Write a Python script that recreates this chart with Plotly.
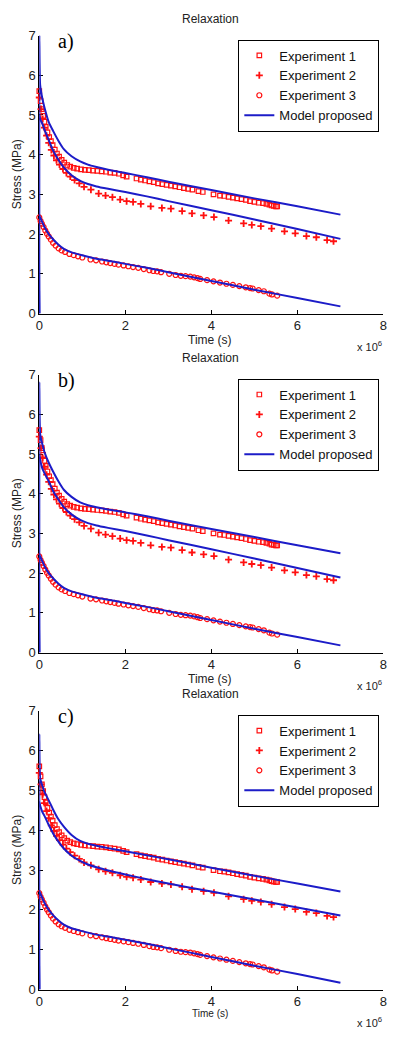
import plotly.graph_objects as go

# ---------------- data (time in 1e6 s, stress in MPa) ----------------
t_exp1 = [0, 0.03, 0.06, 0.09, 0.12, 0.15, 0.19, 0.23, 0.27, 0.31, 0.36, 0.41, 0.46, 0.52,
          0.58, 0.65, 0.72, 0.80, 0.88, 0.97, 1.06, 1.15, 1.25, 1.35, 1.45, 1.55, 1.65, 1.75,
          1.85, 1.95, 2.03, 2.26, 2.36, 2.46, 2.56, 2.66, 2.76, 2.86, 2.96, 3.06, 3.16, 3.26,
          3.36, 3.46, 3.56, 3.70, 3.80, 4.05, 4.20, 4.30, 4.40, 4.50, 4.60, 4.70, 4.80, 4.90,
          5.00, 5.10, 5.20, 5.28, 5.35, 5.40, 5.45, 5.50, 5.53]
s_exp1 = [5.60, 5.35, 5.15, 4.98, 4.83, 4.70, 4.56, 4.44, 4.34, 4.24, 4.13, 4.03, 3.95, 3.87,
          3.80, 3.74, 3.70, 3.67, 3.65, 3.63, 3.62, 3.61, 3.60, 3.59, 3.58, 3.57, 3.55, 3.54,
          3.52, 3.48, 3.45, 3.40, 3.37, 3.35, 3.33, 3.31, 3.28, 3.26, 3.24, 3.22, 3.20, 3.18,
          3.16, 3.14, 3.12, 3.08, 3.06, 3.00, 2.97, 2.96, 2.94, 2.92, 2.90, 2.88, 2.86, 2.83,
          2.81, 2.79, 2.78, 2.76, 2.74, 2.72, 2.71, 2.70, 2.70]

t_exp2 = [0, 0.04, 0.08, 0.12, 0.17, 0.22, 0.28, 0.34, 0.40, 0.47, 0.55, 0.63, 0.72, 0.82,
          0.93, 1.04, 1.20, 1.38, 1.54, 1.70, 1.88, 2.03, 2.18, 2.36, 2.59, 2.85, 3.06, 3.32,
          3.55, 3.82, 4.06, 4.40, 4.75, 4.94, 5.15, 5.40, 5.70, 5.95, 6.21, 6.44, 6.69, 6.84]
s_exp2 = [5.44, 5.15, 4.90, 4.68, 4.48, 4.30, 4.12, 3.98, 3.86, 3.75, 3.64, 3.54, 3.45, 3.36,
          3.28, 3.19, 3.12, 3.02, 2.97, 2.93, 2.87, 2.83, 2.81, 2.76, 2.70, 2.66, 2.64, 2.58,
          2.52, 2.47, 2.43, 2.34, 2.27, 2.23, 2.20, 2.14, 2.07, 2.02, 1.95, 1.92, 1.85, 1.82]

t_exp3 = [0, 0.03, 0.06, 0.10, 0.14, 0.18, 0.22, 0.27, 0.32, 0.38, 0.45, 0.52, 0.60, 0.70,
          0.80, 0.90, 1.00, 1.19, 1.32, 1.46, 1.56, 1.65, 1.75, 1.84, 1.96, 2.07, 2.18, 2.30,
          2.43, 2.56, 2.65, 2.74, 2.83, 3.02, 3.17, 3.29, 3.40, 3.51, 3.60, 3.68, 3.74, 3.90,
          4.05, 4.20, 4.35, 4.50, 4.65, 4.80, 4.90, 4.96, 5.10, 5.22, 5.35, 5.41, 5.53]
s_exp3 = [2.42, 2.33, 2.26, 2.18, 2.09, 2.01, 1.94, 1.86, 1.78, 1.71, 1.64, 1.59, 1.55, 1.50,
          1.47, 1.44, 1.41, 1.36, 1.34, 1.31, 1.29, 1.27, 1.25, 1.23, 1.21, 1.19, 1.17, 1.15,
          1.12, 1.09, 1.07, 1.06, 1.04, 1.00, 0.97, 0.95, 0.94, 0.93, 0.91, 0.89, 0.87, 0.84,
          0.81, 0.78, 0.75, 0.72, 0.69, 0.66, 0.64, 0.63, 0.59, 0.56, 0.50, 0.48, 0.45]

t_model = [0, 0, 0.02, 0.07, 0.12, 0.22, 0.32, 0.44, 0.57, 0.75, 0.95, 1.13, 1.33, 1.6,
           2.0, 2.5, 3.0, 4.0, 5.0, 6.0, 7.0]

model_a_upper = [0, 7.0, 5.75, 5.42, 5.19, 4.82, 4.60, 4.36, 4.14, 3.96, 3.83, 3.75, 3.69, 3.62,
                 3.54, 3.43, 3.32, 3.11, 2.90, 2.70, 2.49]
model_a_mid = [0, 5.0, 4.90, 4.78, 4.63, 4.37, 4.11, 3.88, 3.68, 3.48, 3.34, 3.26, 3.20, 3.14,
               3.06, 2.95, 2.83, 2.60, 2.37, 2.13, 1.88]
model_a_low = [0, 2.46, 2.42, 2.30, 2.18, 2.00, 1.87, 1.74, 1.63, 1.54, 1.48, 1.43, 1.38, 1.33,
               1.25, 1.15, 1.04, 0.82, 0.60, 0.39, 0.18]

model_b_upper = [0, 6.8, 5.50, 5.25, 5.05, 4.78, 4.56, 4.32, 4.10, 3.92, 3.78, 3.71, 3.66, 3.60,
                 3.53, 3.43, 3.32, 3.11, 2.91, 2.70, 2.50]
model_b_mid = [0, 4.97, 4.85, 4.64, 4.52, 4.31, 4.07, 3.86, 3.66, 3.48, 3.34, 3.26, 3.20, 3.14,
               3.06, 2.95, 2.83, 2.60, 2.37, 2.13, 1.89]
model_b_low = [0, 2.46, 2.42, 2.30, 2.18, 2.00, 1.87, 1.74, 1.63, 1.54, 1.48, 1.43, 1.38, 1.33,
               1.25, 1.15, 1.04, 0.82, 0.60, 0.39, 0.18]

model_c_upper = [0, 6.4, 5.30, 5.12, 4.96, 4.75, 4.52, 4.28, 4.09, 3.88, 3.73, 3.66, 3.61, 3.55,
                 3.47, 3.37, 3.27, 3.06, 2.86, 2.66, 2.46]
model_c_mid = [0, 4.71, 4.62, 4.46, 4.36, 4.13, 3.92, 3.72, 3.54, 3.36, 3.23, 3.14, 3.07, 2.99,
               2.89, 2.77, 2.66, 2.46, 2.26, 2.06, 1.86]
model_c_low = [0, 2.46, 2.42, 2.30, 2.18, 2.00, 1.87, 1.74, 1.63, 1.54, 1.48, 1.43, 1.38, 1.33,
               1.25, 1.15, 1.04, 0.82, 0.60, 0.39, 0.17]

x_ticks = [0, 2, 4, 6, 8]
y_ticks = [0, 1, 2, 3, 4, 5, 6, 7]
panel_labels = ["a)", "b)", "c)"]
legend_names = ["Experiment 1", "Experiment 2", "Experiment 3", "Model proposed"]

# ---------------- layout helpers ----------------
W, H = 409, 1038
FONT = "Liberation Sans, Arial, sans-serif"
RED = "#ff1010"
BLUE = "#1c1cc8"

def px(x):
    return x / W

def py(y):
    return 1 - y / H

# pixel positions of plot areas: (top of y=7, bottom of y=0)
panels = [(29, 311), (373, 655), (714, 997)]
x_left, x_right = 36, 387

models = [
    (model_a_upper, model_a_mid, model_a_low),
    (model_b_upper, model_b_mid, model_b_low),
    (model_c_upper, model_c_mid, model_c_low),
]

fig = go.Figure()
annotations = []
layout_axes = {}

for i, ((top, bot), mods) in enumerate(zip(panels, models)):
    n = "" if i == 0 else str(i + 1)
    xa, ya = "x" + n, "y" + n
    leg = "legend" + n
    for trace_args in [
        dict(x=t_exp1, y=s_exp1, name=legend_names[0],
             marker=dict(symbol="square-open", size=4.5, color=RED, line=dict(width=1.2, color=RED))),
        dict(x=t_exp2, y=s_exp2, name=legend_names[1],
             marker=dict(symbol="cross-thin-open", size=5, color=RED, line=dict(width=1.8, color=RED))),
        dict(x=t_exp3, y=s_exp3, name=legend_names[2],
             marker=dict(symbol="circle-open", size=5, color=RED, line=dict(width=1.2, color=RED))),
    ]:
        fig.add_trace(go.Scatter(mode="markers", xaxis=xa, yaxis=ya, legend=leg,
                                 cliponaxis=False, **trace_args))
    for k, m in enumerate(mods):
        fig.add_trace(go.Scatter(x=t_model, y=m, mode="lines", xaxis=xa, yaxis=ya, legend=leg,
                                 name=legend_names[3], showlegend=(k == 0),
                                 line=dict(color=BLUE, width=2, shape="spline", smoothing=0.6),
                                 cliponaxis=False))

    xkey = "xaxis" + n
    ykey = "yaxis" + n
    layout_axes[xkey] = dict(
        domain=[px(x_left), px(x_right)], range=[0, 8], anchor=ya,
        tickvals=x_ticks, ticktext=[str(v) for v in x_ticks],
        ticks="inside", ticklen=4, tickcolor="black", showline=True, linecolor="black",
        linewidth=1, showgrid=False, zeroline=False, layer="below traces",
        tickfont=dict(family=FONT, size=13, color="#222"),
    )
    layout_axes[ykey] = dict(
        domain=[py(bot), py(top)], range=[0, 7], anchor=xa,
        tickvals=y_ticks, ticktext=[str(v) for v in y_ticks],
        ticks="inside", ticklen=4, tickcolor="black", showline=True, linecolor="black",
        linewidth=1, showgrid=False, zeroline=False, layer="below traces",
        tickfont=dict(family=FONT, size=13, color="#222"),
    )
    layout_axes[leg] = dict(
        x=px(239), y=py(top + 4), xanchor="left", yanchor="top",
        bgcolor="white", bordercolor="black", borderwidth=1,
        font=dict(family=FONT, size=13, color="#111"),
        itemsizing="trace", tracegroupgap=0,
    )

    # title
    annotations.append(dict(text="Relaxation", x=px(211), y=py(top - 17), xref="paper", yref="paper",
                            showarrow=False, font=dict(family=FONT, size=12, color="#222"),
                            xanchor="center", yanchor="middle"))
    # y title
    annotations.append(dict(text="Stress (MPa)", x=px(13), y=py((top + bot) / 2), xref="paper",
                            yref="paper", showarrow=False, textangle=-90,
                            font=dict(family=FONT, size=12, color="#222"),
                            xanchor="center", yanchor="middle"))
    # x title
    tsize = 12 if i < 2 else 10
    annotations.append(dict(text="Time (s)", x=px(210), y=py(bot + 27 if i < 2 else bot + 24),
                            xref="paper", yref="paper", showarrow=False,
                            font=dict(family=FONT, size=tsize, color="#222"),
                            xanchor="center", yanchor="middle"))
    # exponent
    annotations.append(dict(text="x 10<sup>6</sup>", x=px(388), y=py(bot + 33),
                            xref="paper", yref="paper", showarrow=False,
                            font=dict(family=FONT, size=11, color="#222"),
                            xanchor="right", yanchor="middle"))
    # panel label
    annotations.append(dict(text=panel_labels[i], x=px(53), y=py(top + 6), xref="paper",
                            yref="paper", showarrow=False,
                            font=dict(family="Liberation Serif, Times New Roman, serif", size=20,
                                      color="black"),
                            xanchor="left", yanchor="middle"))

fig.update_layout(
    width=W, height=H, margin=dict(l=0, r=0, t=0, b=0),
    paper_bgcolor="white", plot_bgcolor="white",
    annotations=annotations, **layout_axes,
)

fig.write_html("out.html")
